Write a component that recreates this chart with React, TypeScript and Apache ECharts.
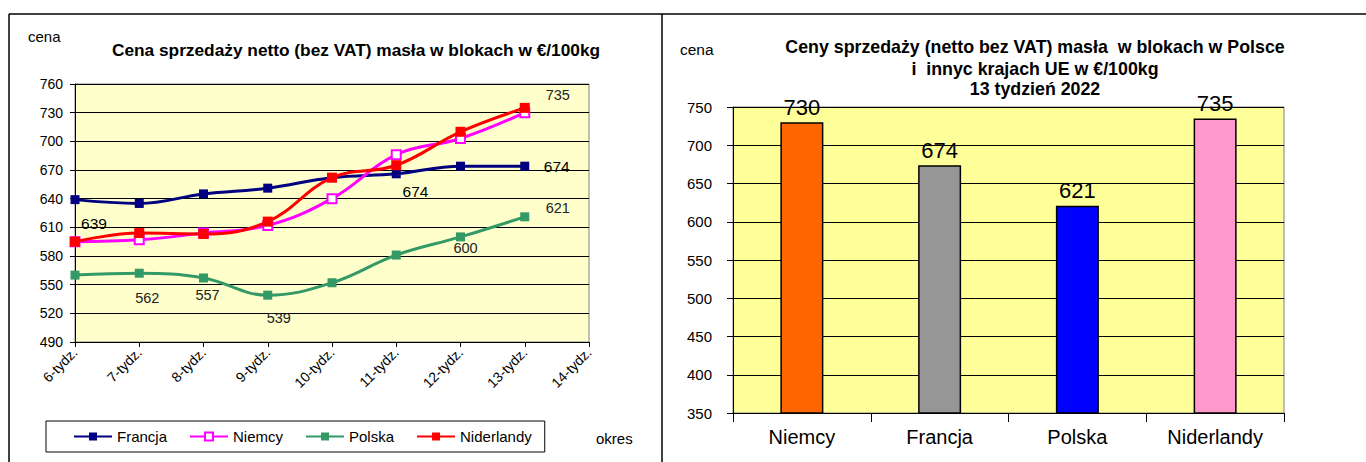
import React, { useEffect, useRef } from "react";
import * as echarts from "echarts";

// ---------- data ----------
const weeks = ["6-tydz.", "7-tydz.", "8-tydz.", "9-tydz.", "10-tydz.", "11-tydz.", "12-tydz.", "13-tydz.", "14-tydz."];
const francja = [639, 635, 645, 651, 662, 666, 674, 674];
const niemcy = [595, 597, 604, 612, 640, 686, 703, 730];
const polska = [560, 562, 557, 539, 552, 581, 600, 621];
const niderlandy = [595, 604, 603, 616, 662, 675, 710, 735];
const leftMin = 490;
const leftMax = 760;
const leftStep = 30;

const countries = ["Niemcy", "Francja", "Polska", "Niderlandy"];
const week13 = [730, 674, 621, 735];
const rightMin = 350;
const rightMax = 750;
const rightStep = 50;

// ---------- styles ----------
const FONT = "'Liberation Sans', Arial, sans-serif";
const barColors = ["#FF6600", "#969696", "#0000FF", "#FF99CC"];

const lineDefs = [
  { name: "Francja", data: francja, color: "#000080", symbol: "rect", size: 9 },
  { name: "Niemcy", data: niemcy, color: "#FF00FF", symbol: "emptyRect", size: 9 },
  { name: "Polska", data: polska, color: "#339966", symbol: "rect", size: 9 },
  { name: "Niderlandy", data: niderlandy, color: "#FF0000", symbol: "rect", size: 10 },
];

// label placements (series index, point index, offset)
const labelSpots = [
  { s: 0, i: 0, dx: 19, dy: 24, strong: true },
  { s: 0, i: 6, dx: -45, dy: 25, strong: true },
  { s: 0, i: 7, dx: 32, dy: 0, strong: true },
  { s: 2, i: 1, dx: 8, dy: 25 },
  { s: 2, i: 2, dx: 4, dy: 17 },
  { s: 2, i: 3, dx: 11, dy: 23 },
  { s: 2, i: 6, dx: 5, dy: 11 },
  { s: 2, i: 7, dx: 33, dy: -9 },
  { s: 3, i: 7, dx: 33, dy: -13 },
];

function buildOption() {
  const lineSeries = lineDefs.map((d, si) => ({
    type: "line",
    name: d.name,
    xAxisIndex: 0,
    yAxisIndex: 0,
    smooth: 0.4,
    symbol: d.symbol,
    symbolSize: d.size,
    showAllSymbol: true,
    lineStyle: { color: d.color, width: 3 },
    itemStyle: { color: d.color, borderColor: d.color, borderWidth: d.symbol === "emptyRect" ? 1.5 : 0 },
    z: 3 + si,
    label: { show: false },
    emphasis: { disabled: true },
    data: d.data.map((v, i) => {
      const spot = labelSpots.find((p) => p.s === si && p.i === i);
      if (!spot) return v;
      return {
        value: v,
        label: {
          show: true,
          position: "inside",
          offset: [spot.dx, spot.dy],
          align: "center",
          verticalAlign: "middle",
          fontFamily: FONT,
          fontSize: spot.strong ? 15.5 : 14.5,
          color: spot.strong ? "#000" : "#222",
          formatter: String(v),
        },
      };
    }),
  }));

  const barSeries = {
    type: "bar",
    xAxisIndex: 1,
    yAxisIndex: 1,
    barWidth: 43,
    emphasis: { disabled: true },
    label: {
      show: true,
      position: "top",
      distance: 4,
      fontFamily: FONT,
      fontSize: 22,
      color: "#000",
    },
    data: week13.map((v, i) => ({
      value: v,
      itemStyle: { color: barColors[i], borderColor: "#000", borderWidth: 1.5 },
    })),
  };

  const axisText = { fontFamily: FONT, fontSize: 14, color: "#000" };

  return {
    animation: false,
    backgroundColor: "#fff",
    grid: [
      {
        left: 75, top: 84, width: 514, height: 258,
        show: true, backgroundColor: "#FFFFCC", borderColor: "#808080", borderWidth: 1,
        outerBoundsMode: "none",
      },
      {
        left: 733, top: 107, width: 551, height: 306,
        show: true, backgroundColor: "#FFFF99", borderColor: "#808080", borderWidth: 1,
        outerBoundsMode: "none",
      },
    ],
    xAxis: [
      {
        type: "category",
        gridIndex: 0,
        data: weeks,
        boundaryGap: false,
        axisLine: { show: true, lineStyle: { color: "#000", width: 1 } },
        axisTick: { show: true, length: 5, lineStyle: { color: "#000" } },
        axisLabel: { ...axisText, rotate: 45, margin: 8, interval: 0 },
        splitLine: { show: false },
      },
      {
        type: "category",
        gridIndex: 1,
        data: countries,
        axisLine: { show: true, lineStyle: { color: "#000", width: 1 } },
        axisTick: { show: true, length: 9, lineStyle: { color: "#000" } },
        axisLabel: { fontFamily: FONT, fontSize: 20, color: "#000", margin: 14, interval: 0 },
        splitLine: { show: false },
      },
    ],
    yAxis: [
      {
        type: "value",
        gridIndex: 0,
        min: leftMin,
        max: leftMax,
        interval: leftStep,
        axisLine: { show: true, lineStyle: { color: "#000", width: 1 } },
        axisTick: { show: true, length: 5, lineStyle: { color: "#000" } },
        axisLabel: { ...axisText, margin: 12 },
        splitLine: { show: true, lineStyle: { color: "#000", width: 1 } },
      },
      {
        type: "value",
        gridIndex: 1,
        min: rightMin,
        max: rightMax,
        interval: rightStep,
        axisLine: { show: true, lineStyle: { color: "#000", width: 1 } },
        axisTick: { show: true, length: 6, lineStyle: { color: "#000" } },
        axisLabel: { ...axisText, fontSize: 15, margin: 21 },
        splitLine: { show: true, lineStyle: { color: "#000", width: 1 } },
      },
    ],
    legend: {
      data: lineDefs.map((d) => d.name),
      left: 46,
      top: 421,
      orient: "horizontal",
      itemWidth: 38,
      itemHeight: 10,
      itemGap: 22,
      padding: [8, 13, 8, 27],
      borderColor: "#000",
      borderWidth: 1,
      backgroundColor: "#fff",
      selectedMode: false,
      textStyle: { fontFamily: FONT, fontSize: 15, color: "#000" },
    },
    graphic: [
      { type: "line", shape: { x1: 9, y1: 14, x2: 1366, y2: 14 }, style: { stroke: "#000", lineWidth: 1.5 } },
      { type: "line", shape: { x1: 9, y1: 14, x2: 9, y2: 462 }, style: { stroke: "#000", lineWidth: 1.5 } },
      { type: "line", shape: { x1: 662, y1: 14, x2: 662, y2: 462 }, style: { stroke: "#000", lineWidth: 1.5 } },
      { type: "text", x: 28, y: 36, style: { text: "cena", fontFamily: FONT, fontSize: 15, fill: "#000", verticalAlign: "middle" } },
      {
        type: "text", x: 356, y: 50,
        style: { text: "Cena sprzedaży netto (bez VAT) masła w blokach w €/100kg", fontFamily: FONT, fontWeight: "bold", fontSize: 17.3, fill: "#000", align: "center", verticalAlign: "middle" },
      },
      { type: "text", x: 596, y: 438, style: { text: "okres", fontFamily: FONT, fontSize: 15, fill: "#000", verticalAlign: "middle" } },
      { type: "text", x: 680, y: 49, style: { text: "cena", fontFamily: FONT, fontSize: 15.5, fill: "#000", verticalAlign: "middle" } },
      {
        type: "text", x: 1035, y: 47,
        style: { text: "Ceny sprzedaży (netto bez VAT) masła  w blokach w Polsce", fontFamily: FONT, fontWeight: "bold", fontSize: 17.8, fill: "#000", align: "center", verticalAlign: "middle" },
      },
      {
        type: "text", x: 1035, y: 69,
        style: { text: "i  innyc krajach UE w €/100kg", fontFamily: FONT, fontWeight: "bold", fontSize: 17.8, fill: "#000", align: "center", verticalAlign: "middle" },
      },
      {
        type: "text", x: 1035, y: 89,
        style: { text: "13 tydzień 2022", fontFamily: FONT, fontWeight: "bold", fontSize: 17.8, fill: "#000", align: "center", verticalAlign: "middle" },
      },
    ],
    series: [...lineSeries, barSeries],
  };
}

export default function App() {
  const ref = useRef<HTMLDivElement>(null);
  useEffect(() => {
    if (!ref.current) return;
    const chart = echarts.init(ref.current, null, { renderer: "svg" });
    chart.setOption(buildOption() as any);
    return () => chart.dispose();
  }, []);
  return (
    <div
      ref={ref}
      style={{ position: "absolute", left: 0, top: 0, width: 1366, height: 462, background: "#fff" }}
    />
  );
}
